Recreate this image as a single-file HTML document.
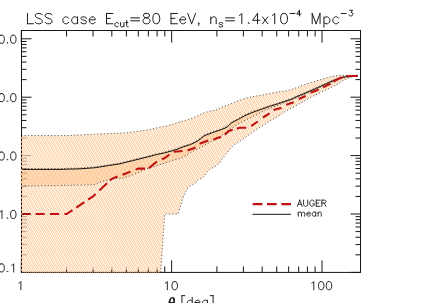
<!DOCTYPE html>
<html><head><meta charset="utf-8"><title>plot</title>
<style>
html,body{margin:0;padding:0;background:#fff}
body{width:424px;height:303px;overflow:hidden;font-family:"Liberation Sans",sans-serif}
svg{display:block;will-change:transform}
text{font-family:"Liberation Sans",sans-serif;fill:#1a1a1a}
</style></head><body>
<svg width="424" height="303" viewBox="0 0 424 303">
<defs>
<clipPath id="c1"><polygon points="21.30,135.60 66.60,135.60 77.50,135.00 95.00,134.20 111.80,133.50 126.00,132.90 140.00,131.00 150.00,129.50 160.00,127.20 168.30,125.60 176.50,123.10 184.80,120.60 193.00,117.80 198.00,115.70 202.90,113.20 209.50,111.20 217.80,109.60 220.00,108.00 228.30,104.80 236.50,101.50 244.80,98.50 253.00,96.50 261.30,95.20 269.50,93.50 277.80,91.90 285.00,91.20 291.25,89.50 296.00,87.90 301.00,85.90 305.90,84.10 310.90,82.50 315.80,81.00 320.80,79.60 325.40,78.30 329.40,77.00 333.90,76.00 338.40,75.40 342.90,75.20 347.40,75.60 351.00,75.97 357.80,75.97 357.80,75.97 354.00,75.97 350.50,77.00 347.40,78.50 343.00,80.50 338.50,83.50 335.60,85.20 330.50,87.80 325.70,90.00 321.00,92.30 316.00,94.70 309.00,98.30 303.00,101.80 297.50,104.90 290.00,108.90 285.00,111.60 277.10,117.00 269.70,121.00 263.75,125.10 257.50,128.90 251.25,133.25 245.00,137.60 238.75,142.00 233.75,145.10 230.00,148.90 226.25,153.90 222.50,158.25 220.10,162.50 217.00,165.00 214.50,166.90 209.50,169.40 206.40,172.50 205.10,175.00 202.00,178.10 197.60,180.00 195.75,182.75 192.00,185.00 188.25,186.90 183.55,196.40 178.00,214.00 164.70,214.00 160.70,272.40 21.30,272.40"/></clipPath>
<clipPath id="c2"><polygon points="21.30,168.60 60.00,168.60 73.00,168.20 80.00,168.00 94.20,167.00 108.40,164.80 120.00,163.00 132.50,159.90 145.00,156.80 157.50,153.60 163.75,152.30 172.90,149.80 176.00,148.90 183.30,146.00 190.50,143.80 197.80,140.20 204.00,135.10 212.60,131.80 221.10,128.90 227.10,126.40 231.40,122.10 238.30,118.60 244.80,114.90 253.00,111.40 261.30,108.60 269.50,105.60 277.80,103.10 285.00,100.60 291.25,98.50 296.00,96.20 305.90,92.10 315.80,87.70 325.40,83.40 333.90,79.50 338.40,77.90 342.90,76.50 347.40,75.60 351.00,75.17 357.80,75.17 357.80,75.97 340.00,78.50 300.00,96.64 265.00,110.25 236.00,125.07 220.00,136.58 200.00,147.79 192.00,151.86 181.00,158.21 172.90,160.30 157.50,165.60 145.00,169.40 132.50,175.00 122.60,178.36 115.50,178.40 108.40,180.00 101.30,181.70 94.00,184.81 21.30,186.20"/></clipPath>
<clipPath id="cp"><rect x="21.5" y="30.5" width="339" height="241.9"/></clipPath>
</defs>
<rect width="424" height="303" fill="#fff"/>
<path d="M21.30 272.40v-12 M21.30 30.50v12 M66.56 272.40v-6 M66.56 30.50v6 M93.04 272.40v-6 M93.04 30.50v6 M111.82 272.40v-6 M111.82 30.50v6 M126.39 272.40v-6 M126.39 30.50v6 M138.30 272.40v-6 M138.30 30.50v6 M148.36 272.40v-6 M148.36 30.50v6 M157.08 272.40v-6 M157.08 30.50v6 M164.77 272.40v-6 M164.77 30.50v6 M171.65 272.40v-12 M171.65 30.50v12 M216.91 272.40v-6 M216.91 30.50v6 M243.39 272.40v-6 M243.39 30.50v6 M262.17 272.40v-6 M262.17 30.50v6 M276.74 272.40v-6 M276.74 30.50v6 M288.65 272.40v-6 M288.65 30.50v6 M298.71 272.40v-6 M298.71 30.50v6 M307.43 272.40v-6 M307.43 30.50v6 M315.12 272.40v-6 M315.12 30.50v6 M322.00 272.40v-12 M322.00 30.50v12 M21.50 272.40h10 M360.50 272.40h-10 M21.50 254.82h5 M360.50 254.82h-5 M21.50 244.54h5 M360.50 244.54h-5 M21.50 237.24h5 M360.50 237.24h-5 M21.50 231.58h5 M360.50 231.58h-5 M21.50 226.96h5 M360.50 226.96h-5 M21.50 223.05h5 M360.50 223.05h-5 M21.50 219.66h5 M360.50 219.66h-5 M21.50 216.67h5 M360.50 216.67h-5 M21.50 214.00h10 M360.50 214.00h-10 M21.50 196.42h5 M360.50 196.42h-5 M21.50 186.14h5 M360.50 186.14h-5 M21.50 178.84h5 M360.50 178.84h-5 M21.50 173.18h5 M360.50 173.18h-5 M21.50 168.56h5 M360.50 168.56h-5 M21.50 164.65h5 M360.50 164.65h-5 M21.50 161.26h5 M360.50 161.26h-5 M21.50 158.27h5 M360.50 158.27h-5 M21.50 155.60h10 M360.50 155.60h-10 M21.50 138.02h5 M360.50 138.02h-5 M21.50 127.74h5 M360.50 127.74h-5 M21.50 120.44h5 M360.50 120.44h-5 M21.50 114.78h5 M360.50 114.78h-5 M21.50 110.16h5 M360.50 110.16h-5 M21.50 106.25h5 M360.50 106.25h-5 M21.50 102.86h5 M360.50 102.86h-5 M21.50 99.87h5 M360.50 99.87h-5 M21.50 97.20h10 M360.50 97.20h-10 M21.50 79.62h5 M360.50 79.62h-5 M21.50 69.34h5 M360.50 69.34h-5 M21.50 62.04h5 M360.50 62.04h-5 M21.50 56.38h5 M360.50 56.38h-5 M21.50 51.76h5 M360.50 51.76h-5 M21.50 47.85h5 M360.50 47.85h-5 M21.50 44.46h5 M360.50 44.46h-5 M21.50 41.47h5 M360.50 41.47h-5 M21.50 38.80h10 M360.50 38.80h-10" stroke="#151515" stroke-width="1" fill="none"/>
<g clip-path="url(#cp)">
<polygon points="21.30,135.60 66.60,135.60 77.50,135.00 95.00,134.20 111.80,133.50 126.00,132.90 140.00,131.00 150.00,129.50 160.00,127.20 168.30,125.60 176.50,123.10 184.80,120.60 193.00,117.80 198.00,115.70 202.90,113.20 209.50,111.20 217.80,109.60 220.00,108.00 228.30,104.80 236.50,101.50 244.80,98.50 253.00,96.50 261.30,95.20 269.50,93.50 277.80,91.90 285.00,91.20 291.25,89.50 296.00,87.90 301.00,85.90 305.90,84.10 310.90,82.50 315.80,81.00 320.80,79.60 325.40,78.30 329.40,77.00 333.90,76.00 338.40,75.40 342.90,75.20 347.40,75.60 351.00,75.97 357.80,75.97 357.80,75.97 354.00,75.97 350.50,77.00 347.40,78.50 343.00,80.50 338.50,83.50 335.60,85.20 330.50,87.80 325.70,90.00 321.00,92.30 316.00,94.70 309.00,98.30 303.00,101.80 297.50,104.90 290.00,108.90 285.00,111.60 277.10,117.00 269.70,121.00 263.75,125.10 257.50,128.90 251.25,133.25 245.00,137.60 238.75,142.00 233.75,145.10 230.00,148.90 226.25,153.90 222.50,158.25 220.10,162.50 217.00,165.00 214.50,166.90 209.50,169.40 206.40,172.50 205.10,175.00 202.00,178.10 197.60,180.00 195.75,182.75 192.00,185.00 188.25,186.90 183.55,196.40 178.00,214.00 164.70,214.00 160.70,272.40 21.30,272.40" fill="#fff6ed"/>
<polygon points="21.30,168.60 60.00,168.60 73.00,168.20 80.00,168.00 94.20,167.00 108.40,164.80 120.00,163.00 132.50,159.90 145.00,156.80 157.50,153.60 163.75,152.30 172.90,149.80 176.00,148.90 183.30,146.00 190.50,143.80 197.80,140.20 204.00,135.10 212.60,131.80 221.10,128.90 227.10,126.40 231.40,122.10 238.30,118.60 244.80,114.90 253.00,111.40 261.30,108.60 269.50,105.60 277.80,103.10 285.00,100.60 291.25,98.50 296.00,96.20 305.90,92.10 315.80,87.70 325.40,83.40 333.90,79.50 338.40,77.90 342.90,76.50 347.40,75.60 351.00,75.17 357.80,75.17 357.80,75.97 340.00,78.50 300.00,96.64 265.00,110.25 236.00,125.07 220.00,136.58 200.00,147.79 192.00,151.86 181.00,158.21 172.90,160.30 157.50,165.60 145.00,169.40 132.50,175.00 122.60,178.36 115.50,178.40 108.40,180.00 101.30,181.70 94.00,184.81 21.30,186.20" fill="#ffeedd"/>
<g clip-path="url(#c1)"><path d="M-159.97 30.5h0.44l140.00 245h-0.44zM-158.27 30.5h0.44l140.00 245h-0.44zM-155.97 30.5h0.44l140.00 245h-0.44zM-154.27 30.5h0.44l140.00 245h-0.44zM-151.97 30.5h0.44l140.00 245h-0.44zM-150.27 30.5h0.44l140.00 245h-0.44zM-147.97 30.5h0.44l140.00 245h-0.44zM-146.27 30.5h0.44l140.00 245h-0.44zM-143.97 30.5h0.44l140.00 245h-0.44zM-142.27 30.5h0.44l140.00 245h-0.44zM-139.97 30.5h0.44l140.00 245h-0.44zM-138.27 30.5h0.44l140.00 245h-0.44zM-135.97 30.5h0.44l140.00 245h-0.44zM-134.27 30.5h0.44l140.00 245h-0.44zM-131.97 30.5h0.44l140.00 245h-0.44zM-130.27 30.5h0.44l140.00 245h-0.44zM-127.97 30.5h0.44l140.00 245h-0.44zM-126.27 30.5h0.44l140.00 245h-0.44zM-123.97 30.5h0.44l140.00 245h-0.44zM-122.27 30.5h0.44l140.00 245h-0.44zM-119.97 30.5h0.44l140.00 245h-0.44zM-118.27 30.5h0.44l140.00 245h-0.44zM-115.97 30.5h0.44l140.00 245h-0.44zM-114.27 30.5h0.44l140.00 245h-0.44zM-111.97 30.5h0.44l140.00 245h-0.44zM-110.27 30.5h0.44l140.00 245h-0.44zM-107.97 30.5h0.44l140.00 245h-0.44zM-106.27 30.5h0.44l140.00 245h-0.44zM-103.97 30.5h0.44l140.00 245h-0.44zM-102.27 30.5h0.44l140.00 245h-0.44zM-99.97 30.5h0.44l140.00 245h-0.44zM-98.27 30.5h0.44l140.00 245h-0.44zM-95.97 30.5h0.44l140.00 245h-0.44zM-94.27 30.5h0.44l140.00 245h-0.44zM-91.97 30.5h0.44l140.00 245h-0.44zM-90.27 30.5h0.44l140.00 245h-0.44zM-87.97 30.5h0.44l140.00 245h-0.44zM-86.27 30.5h0.44l140.00 245h-0.44zM-83.97 30.5h0.44l140.00 245h-0.44zM-82.27 30.5h0.44l140.00 245h-0.44zM-79.97 30.5h0.44l140.00 245h-0.44zM-78.27 30.5h0.44l140.00 245h-0.44zM-75.97 30.5h0.44l140.00 245h-0.44zM-74.27 30.5h0.44l140.00 245h-0.44zM-71.97 30.5h0.44l140.00 245h-0.44zM-70.27 30.5h0.44l140.00 245h-0.44zM-67.97 30.5h0.44l140.00 245h-0.44zM-66.27 30.5h0.44l140.00 245h-0.44zM-63.97 30.5h0.44l140.00 245h-0.44zM-62.27 30.5h0.44l140.00 245h-0.44zM-59.97 30.5h0.44l140.00 245h-0.44zM-58.27 30.5h0.44l140.00 245h-0.44zM-55.97 30.5h0.44l140.00 245h-0.44zM-54.27 30.5h0.44l140.00 245h-0.44zM-51.97 30.5h0.44l140.00 245h-0.44zM-50.27 30.5h0.44l140.00 245h-0.44zM-47.97 30.5h0.44l140.00 245h-0.44zM-46.27 30.5h0.44l140.00 245h-0.44zM-43.97 30.5h0.44l140.00 245h-0.44zM-42.27 30.5h0.44l140.00 245h-0.44zM-39.97 30.5h0.44l140.00 245h-0.44zM-38.27 30.5h0.44l140.00 245h-0.44zM-35.97 30.5h0.44l140.00 245h-0.44zM-34.27 30.5h0.44l140.00 245h-0.44zM-31.97 30.5h0.44l140.00 245h-0.44zM-30.27 30.5h0.44l140.00 245h-0.44zM-27.97 30.5h0.44l140.00 245h-0.44zM-26.27 30.5h0.44l140.00 245h-0.44zM-23.97 30.5h0.44l140.00 245h-0.44zM-22.27 30.5h0.44l140.00 245h-0.44zM-19.97 30.5h0.44l140.00 245h-0.44zM-18.27 30.5h0.44l140.00 245h-0.44zM-15.97 30.5h0.44l140.00 245h-0.44zM-14.27 30.5h0.44l140.00 245h-0.44zM-11.97 30.5h0.44l140.00 245h-0.44zM-10.27 30.5h0.44l140.00 245h-0.44zM-7.97 30.5h0.44l140.00 245h-0.44zM-6.27 30.5h0.44l140.00 245h-0.44zM-3.97 30.5h0.44l140.00 245h-0.44zM-2.27 30.5h0.44l140.00 245h-0.44zM0.03 30.5h0.44l140.00 245h-0.44zM1.73 30.5h0.44l140.00 245h-0.44zM4.03 30.5h0.44l140.00 245h-0.44zM5.73 30.5h0.44l140.00 245h-0.44zM8.03 30.5h0.44l140.00 245h-0.44zM9.73 30.5h0.44l140.00 245h-0.44zM12.03 30.5h0.44l140.00 245h-0.44zM13.73 30.5h0.44l140.00 245h-0.44zM16.03 30.5h0.44l140.00 245h-0.44zM17.73 30.5h0.44l140.00 245h-0.44zM20.03 30.5h0.44l140.00 245h-0.44zM21.73 30.5h0.44l140.00 245h-0.44zM24.03 30.5h0.44l140.00 245h-0.44zM25.73 30.5h0.44l140.00 245h-0.44zM28.03 30.5h0.44l140.00 245h-0.44zM29.73 30.5h0.44l140.00 245h-0.44zM32.03 30.5h0.44l140.00 245h-0.44zM33.73 30.5h0.44l140.00 245h-0.44zM36.03 30.5h0.44l140.00 245h-0.44zM37.73 30.5h0.44l140.00 245h-0.44zM40.03 30.5h0.44l140.00 245h-0.44zM41.73 30.5h0.44l140.00 245h-0.44zM44.03 30.5h0.44l140.00 245h-0.44zM45.73 30.5h0.44l140.00 245h-0.44zM48.03 30.5h0.44l140.00 245h-0.44zM49.73 30.5h0.44l140.00 245h-0.44zM52.03 30.5h0.44l140.00 245h-0.44zM53.73 30.5h0.44l140.00 245h-0.44zM56.03 30.5h0.44l140.00 245h-0.44zM57.73 30.5h0.44l140.00 245h-0.44zM60.03 30.5h0.44l140.00 245h-0.44zM61.73 30.5h0.44l140.00 245h-0.44zM64.03 30.5h0.44l140.00 245h-0.44zM65.73 30.5h0.44l140.00 245h-0.44zM68.03 30.5h0.44l140.00 245h-0.44zM69.73 30.5h0.44l140.00 245h-0.44zM72.03 30.5h0.44l140.00 245h-0.44zM73.73 30.5h0.44l140.00 245h-0.44zM76.03 30.5h0.44l140.00 245h-0.44zM77.73 30.5h0.44l140.00 245h-0.44zM80.03 30.5h0.44l140.00 245h-0.44zM81.73 30.5h0.44l140.00 245h-0.44zM84.03 30.5h0.44l140.00 245h-0.44zM85.73 30.5h0.44l140.00 245h-0.44zM88.03 30.5h0.44l140.00 245h-0.44zM89.73 30.5h0.44l140.00 245h-0.44zM92.03 30.5h0.44l140.00 245h-0.44zM93.73 30.5h0.44l140.00 245h-0.44zM96.03 30.5h0.44l140.00 245h-0.44zM97.73 30.5h0.44l140.00 245h-0.44zM100.03 30.5h0.44l140.00 245h-0.44zM101.73 30.5h0.44l140.00 245h-0.44zM104.03 30.5h0.44l140.00 245h-0.44zM105.73 30.5h0.44l140.00 245h-0.44zM108.03 30.5h0.44l140.00 245h-0.44zM109.73 30.5h0.44l140.00 245h-0.44zM112.03 30.5h0.44l140.00 245h-0.44zM113.73 30.5h0.44l140.00 245h-0.44zM116.03 30.5h0.44l140.00 245h-0.44zM117.73 30.5h0.44l140.00 245h-0.44zM120.03 30.5h0.44l140.00 245h-0.44zM121.73 30.5h0.44l140.00 245h-0.44zM124.03 30.5h0.44l140.00 245h-0.44zM125.73 30.5h0.44l140.00 245h-0.44zM128.03 30.5h0.44l140.00 245h-0.44zM129.73 30.5h0.44l140.00 245h-0.44zM132.03 30.5h0.44l140.00 245h-0.44zM133.73 30.5h0.44l140.00 245h-0.44zM136.03 30.5h0.44l140.00 245h-0.44zM137.73 30.5h0.44l140.00 245h-0.44zM140.03 30.5h0.44l140.00 245h-0.44zM141.73 30.5h0.44l140.00 245h-0.44zM144.03 30.5h0.44l140.00 245h-0.44zM145.73 30.5h0.44l140.00 245h-0.44zM148.03 30.5h0.44l140.00 245h-0.44zM149.73 30.5h0.44l140.00 245h-0.44zM152.03 30.5h0.44l140.00 245h-0.44zM153.73 30.5h0.44l140.00 245h-0.44zM156.03 30.5h0.44l140.00 245h-0.44zM157.73 30.5h0.44l140.00 245h-0.44zM160.03 30.5h0.44l140.00 245h-0.44zM161.73 30.5h0.44l140.00 245h-0.44zM164.03 30.5h0.44l140.00 245h-0.44zM165.73 30.5h0.44l140.00 245h-0.44zM168.03 30.5h0.44l140.00 245h-0.44zM169.73 30.5h0.44l140.00 245h-0.44zM172.03 30.5h0.44l140.00 245h-0.44zM173.73 30.5h0.44l140.00 245h-0.44zM176.03 30.5h0.44l140.00 245h-0.44zM177.73 30.5h0.44l140.00 245h-0.44zM180.03 30.5h0.44l140.00 245h-0.44zM181.73 30.5h0.44l140.00 245h-0.44zM184.03 30.5h0.44l140.00 245h-0.44zM185.73 30.5h0.44l140.00 245h-0.44zM188.03 30.5h0.44l140.00 245h-0.44zM189.73 30.5h0.44l140.00 245h-0.44zM192.03 30.5h0.44l140.00 245h-0.44zM193.73 30.5h0.44l140.00 245h-0.44zM196.03 30.5h0.44l140.00 245h-0.44zM197.73 30.5h0.44l140.00 245h-0.44zM200.03 30.5h0.44l140.00 245h-0.44zM201.73 30.5h0.44l140.00 245h-0.44zM204.03 30.5h0.44l140.00 245h-0.44zM205.73 30.5h0.44l140.00 245h-0.44zM208.03 30.5h0.44l140.00 245h-0.44zM209.73 30.5h0.44l140.00 245h-0.44zM212.03 30.5h0.44l140.00 245h-0.44zM213.73 30.5h0.44l140.00 245h-0.44zM216.03 30.5h0.44l140.00 245h-0.44zM217.73 30.5h0.44l140.00 245h-0.44zM220.03 30.5h0.44l140.00 245h-0.44zM221.73 30.5h0.44l140.00 245h-0.44zM224.03 30.5h0.44l140.00 245h-0.44zM225.73 30.5h0.44l140.00 245h-0.44zM228.03 30.5h0.44l140.00 245h-0.44zM229.73 30.5h0.44l140.00 245h-0.44zM232.03 30.5h0.44l140.00 245h-0.44zM233.73 30.5h0.44l140.00 245h-0.44zM236.03 30.5h0.44l140.00 245h-0.44zM237.73 30.5h0.44l140.00 245h-0.44zM240.03 30.5h0.44l140.00 245h-0.44zM241.73 30.5h0.44l140.00 245h-0.44zM244.03 30.5h0.44l140.00 245h-0.44zM245.73 30.5h0.44l140.00 245h-0.44zM248.03 30.5h0.44l140.00 245h-0.44zM249.73 30.5h0.44l140.00 245h-0.44zM252.03 30.5h0.44l140.00 245h-0.44zM253.73 30.5h0.44l140.00 245h-0.44zM256.03 30.5h0.44l140.00 245h-0.44zM257.73 30.5h0.44l140.00 245h-0.44zM260.03 30.5h0.44l140.00 245h-0.44zM261.73 30.5h0.44l140.00 245h-0.44zM264.03 30.5h0.44l140.00 245h-0.44zM265.73 30.5h0.44l140.00 245h-0.44zM268.03 30.5h0.44l140.00 245h-0.44zM269.73 30.5h0.44l140.00 245h-0.44zM272.03 30.5h0.44l140.00 245h-0.44zM273.73 30.5h0.44l140.00 245h-0.44zM276.03 30.5h0.44l140.00 245h-0.44zM277.73 30.5h0.44l140.00 245h-0.44zM280.03 30.5h0.44l140.00 245h-0.44zM281.73 30.5h0.44l140.00 245h-0.44zM284.03 30.5h0.44l140.00 245h-0.44zM285.73 30.5h0.44l140.00 245h-0.44zM288.03 30.5h0.44l140.00 245h-0.44zM289.73 30.5h0.44l140.00 245h-0.44zM292.03 30.5h0.44l140.00 245h-0.44zM293.73 30.5h0.44l140.00 245h-0.44zM296.03 30.5h0.44l140.00 245h-0.44zM297.73 30.5h0.44l140.00 245h-0.44zM300.03 30.5h0.44l140.00 245h-0.44zM301.73 30.5h0.44l140.00 245h-0.44zM304.03 30.5h0.44l140.00 245h-0.44zM305.73 30.5h0.44l140.00 245h-0.44zM308.03 30.5h0.44l140.00 245h-0.44zM309.73 30.5h0.44l140.00 245h-0.44zM312.03 30.5h0.44l140.00 245h-0.44zM313.73 30.5h0.44l140.00 245h-0.44zM316.03 30.5h0.44l140.00 245h-0.44zM317.73 30.5h0.44l140.00 245h-0.44zM320.03 30.5h0.44l140.00 245h-0.44zM321.73 30.5h0.44l140.00 245h-0.44zM324.03 30.5h0.44l140.00 245h-0.44zM325.73 30.5h0.44l140.00 245h-0.44zM328.03 30.5h0.44l140.00 245h-0.44zM329.73 30.5h0.44l140.00 245h-0.44zM332.03 30.5h0.44l140.00 245h-0.44zM333.73 30.5h0.44l140.00 245h-0.44zM336.03 30.5h0.44l140.00 245h-0.44zM337.73 30.5h0.44l140.00 245h-0.44zM340.03 30.5h0.44l140.00 245h-0.44zM341.73 30.5h0.44l140.00 245h-0.44zM344.03 30.5h0.44l140.00 245h-0.44zM345.73 30.5h0.44l140.00 245h-0.44zM348.03 30.5h0.44l140.00 245h-0.44zM349.73 30.5h0.44l140.00 245h-0.44zM352.03 30.5h0.44l140.00 245h-0.44zM353.73 30.5h0.44l140.00 245h-0.44zM356.03 30.5h0.44l140.00 245h-0.44zM357.73 30.5h0.44l140.00 245h-0.44zM360.03 30.5h0.44l140.00 245h-0.44zM361.73 30.5h0.44l140.00 245h-0.44zM364.03 30.5h0.44l140.00 245h-0.44zM365.73 30.5h0.44l140.00 245h-0.44zM368.03 30.5h0.44l140.00 245h-0.44zM369.73 30.5h0.44l140.00 245h-0.44zM372.03 30.5h0.44l140.00 245h-0.44zM373.73 30.5h0.44l140.00 245h-0.44zM376.03 30.5h0.44l140.00 245h-0.44zM377.73 30.5h0.44l140.00 245h-0.44zM380.03 30.5h0.44l140.00 245h-0.44zM381.73 30.5h0.44l140.00 245h-0.44zM384.03 30.5h0.44l140.00 245h-0.44zM385.73 30.5h0.44l140.00 245h-0.44zM388.03 30.5h0.44l140.00 245h-0.44zM389.73 30.5h0.44l140.00 245h-0.44zM392.03 30.5h0.44l140.00 245h-0.44zM393.73 30.5h0.44l140.00 245h-0.44zM396.03 30.5h0.44l140.00 245h-0.44zM397.73 30.5h0.44l140.00 245h-0.44zM400.03 30.5h0.44l140.00 245h-0.44zM401.73 30.5h0.44l140.00 245h-0.44zM404.03 30.5h0.44l140.00 245h-0.44zM405.73 30.5h0.44l140.00 245h-0.44zM408.03 30.5h0.44l140.00 245h-0.44zM409.73 30.5h0.44l140.00 245h-0.44zM412.03 30.5h0.44l140.00 245h-0.44zM413.73 30.5h0.44l140.00 245h-0.44zM416.03 30.5h0.44l140.00 245h-0.44zM417.73 30.5h0.44l140.00 245h-0.44zM420.03 30.5h0.44l140.00 245h-0.44zM421.73 30.5h0.44l140.00 245h-0.44zM424.03 30.5h0.44l140.00 245h-0.44zM425.73 30.5h0.44l140.00 245h-0.44zM428.03 30.5h0.44l140.00 245h-0.44zM429.73 30.5h0.44l140.00 245h-0.44zM432.03 30.5h0.44l140.00 245h-0.44zM433.73 30.5h0.44l140.00 245h-0.44zM436.03 30.5h0.44l140.00 245h-0.44zM437.73 30.5h0.44l140.00 245h-0.44zM440.03 30.5h0.44l140.00 245h-0.44zM441.73 30.5h0.44l140.00 245h-0.44zM444.03 30.5h0.44l140.00 245h-0.44zM445.73 30.5h0.44l140.00 245h-0.44zM448.03 30.5h0.44l140.00 245h-0.44zM449.73 30.5h0.44l140.00 245h-0.44zM452.03 30.5h0.44l140.00 245h-0.44zM453.73 30.5h0.44l140.00 245h-0.44zM456.03 30.5h0.44l140.00 245h-0.44zM457.73 30.5h0.44l140.00 245h-0.44zM460.03 30.5h0.44l140.00 245h-0.44zM461.73 30.5h0.44l140.00 245h-0.44zM464.03 30.5h0.44l140.00 245h-0.44zM465.73 30.5h0.44l140.00 245h-0.44zM468.03 30.5h0.44l140.00 245h-0.44zM469.73 30.5h0.44l140.00 245h-0.44zM472.03 30.5h0.44l140.00 245h-0.44zM473.73 30.5h0.44l140.00 245h-0.44zM476.03 30.5h0.44l140.00 245h-0.44zM477.73 30.5h0.44l140.00 245h-0.44zM480.03 30.5h0.44l140.00 245h-0.44zM481.73 30.5h0.44l140.00 245h-0.44zM484.03 30.5h0.44l140.00 245h-0.44zM485.73 30.5h0.44l140.00 245h-0.44zM488.03 30.5h0.44l140.00 245h-0.44zM489.73 30.5h0.44l140.00 245h-0.44zM492.03 30.5h0.44l140.00 245h-0.44zM493.73 30.5h0.44l140.00 245h-0.44zM496.03 30.5h0.44l140.00 245h-0.44zM497.73 30.5h0.44l140.00 245h-0.44zM500.03 30.5h0.44l140.00 245h-0.44zM501.73 30.5h0.44l140.00 245h-0.44zM504.03 30.5h0.44l140.00 245h-0.44zM505.73 30.5h0.44l140.00 245h-0.44zM508.03 30.5h0.44l140.00 245h-0.44zM509.73 30.5h0.44l140.00 245h-0.44zM512.03 30.5h0.44l140.00 245h-0.44zM513.73 30.5h0.44l140.00 245h-0.44zM516.03 30.5h0.44l140.00 245h-0.44zM517.73 30.5h0.44l140.00 245h-0.44z" fill="#fda650"/></g>
<g clip-path="url(#c2)"><path d="M-159.97 30.5h0.44l-140.00 245h-0.44zM-158.27 30.5h0.44l-140.00 245h-0.44zM-155.97 30.5h0.44l-140.00 245h-0.44zM-154.27 30.5h0.44l-140.00 245h-0.44zM-151.97 30.5h0.44l-140.00 245h-0.44zM-150.27 30.5h0.44l-140.00 245h-0.44zM-147.97 30.5h0.44l-140.00 245h-0.44zM-146.27 30.5h0.44l-140.00 245h-0.44zM-143.97 30.5h0.44l-140.00 245h-0.44zM-142.27 30.5h0.44l-140.00 245h-0.44zM-139.97 30.5h0.44l-140.00 245h-0.44zM-138.27 30.5h0.44l-140.00 245h-0.44zM-135.97 30.5h0.44l-140.00 245h-0.44zM-134.27 30.5h0.44l-140.00 245h-0.44zM-131.97 30.5h0.44l-140.00 245h-0.44zM-130.27 30.5h0.44l-140.00 245h-0.44zM-127.97 30.5h0.44l-140.00 245h-0.44zM-126.27 30.5h0.44l-140.00 245h-0.44zM-123.97 30.5h0.44l-140.00 245h-0.44zM-122.27 30.5h0.44l-140.00 245h-0.44zM-119.97 30.5h0.44l-140.00 245h-0.44zM-118.27 30.5h0.44l-140.00 245h-0.44zM-115.97 30.5h0.44l-140.00 245h-0.44zM-114.27 30.5h0.44l-140.00 245h-0.44zM-111.97 30.5h0.44l-140.00 245h-0.44zM-110.27 30.5h0.44l-140.00 245h-0.44zM-107.97 30.5h0.44l-140.00 245h-0.44zM-106.27 30.5h0.44l-140.00 245h-0.44zM-103.97 30.5h0.44l-140.00 245h-0.44zM-102.27 30.5h0.44l-140.00 245h-0.44zM-99.97 30.5h0.44l-140.00 245h-0.44zM-98.27 30.5h0.44l-140.00 245h-0.44zM-95.97 30.5h0.44l-140.00 245h-0.44zM-94.27 30.5h0.44l-140.00 245h-0.44zM-91.97 30.5h0.44l-140.00 245h-0.44zM-90.27 30.5h0.44l-140.00 245h-0.44zM-87.97 30.5h0.44l-140.00 245h-0.44zM-86.27 30.5h0.44l-140.00 245h-0.44zM-83.97 30.5h0.44l-140.00 245h-0.44zM-82.27 30.5h0.44l-140.00 245h-0.44zM-79.97 30.5h0.44l-140.00 245h-0.44zM-78.27 30.5h0.44l-140.00 245h-0.44zM-75.97 30.5h0.44l-140.00 245h-0.44zM-74.27 30.5h0.44l-140.00 245h-0.44zM-71.97 30.5h0.44l-140.00 245h-0.44zM-70.27 30.5h0.44l-140.00 245h-0.44zM-67.97 30.5h0.44l-140.00 245h-0.44zM-66.27 30.5h0.44l-140.00 245h-0.44zM-63.97 30.5h0.44l-140.00 245h-0.44zM-62.27 30.5h0.44l-140.00 245h-0.44zM-59.97 30.5h0.44l-140.00 245h-0.44zM-58.27 30.5h0.44l-140.00 245h-0.44zM-55.97 30.5h0.44l-140.00 245h-0.44zM-54.27 30.5h0.44l-140.00 245h-0.44zM-51.97 30.5h0.44l-140.00 245h-0.44zM-50.27 30.5h0.44l-140.00 245h-0.44zM-47.97 30.5h0.44l-140.00 245h-0.44zM-46.27 30.5h0.44l-140.00 245h-0.44zM-43.97 30.5h0.44l-140.00 245h-0.44zM-42.27 30.5h0.44l-140.00 245h-0.44zM-39.97 30.5h0.44l-140.00 245h-0.44zM-38.27 30.5h0.44l-140.00 245h-0.44zM-35.97 30.5h0.44l-140.00 245h-0.44zM-34.27 30.5h0.44l-140.00 245h-0.44zM-31.97 30.5h0.44l-140.00 245h-0.44zM-30.27 30.5h0.44l-140.00 245h-0.44zM-27.97 30.5h0.44l-140.00 245h-0.44zM-26.27 30.5h0.44l-140.00 245h-0.44zM-23.97 30.5h0.44l-140.00 245h-0.44zM-22.27 30.5h0.44l-140.00 245h-0.44zM-19.97 30.5h0.44l-140.00 245h-0.44zM-18.27 30.5h0.44l-140.00 245h-0.44zM-15.97 30.5h0.44l-140.00 245h-0.44zM-14.27 30.5h0.44l-140.00 245h-0.44zM-11.97 30.5h0.44l-140.00 245h-0.44zM-10.27 30.5h0.44l-140.00 245h-0.44zM-7.97 30.5h0.44l-140.00 245h-0.44zM-6.27 30.5h0.44l-140.00 245h-0.44zM-3.97 30.5h0.44l-140.00 245h-0.44zM-2.27 30.5h0.44l-140.00 245h-0.44zM0.03 30.5h0.44l-140.00 245h-0.44zM1.73 30.5h0.44l-140.00 245h-0.44zM4.03 30.5h0.44l-140.00 245h-0.44zM5.73 30.5h0.44l-140.00 245h-0.44zM8.03 30.5h0.44l-140.00 245h-0.44zM9.73 30.5h0.44l-140.00 245h-0.44zM12.03 30.5h0.44l-140.00 245h-0.44zM13.73 30.5h0.44l-140.00 245h-0.44zM16.03 30.5h0.44l-140.00 245h-0.44zM17.73 30.5h0.44l-140.00 245h-0.44zM20.03 30.5h0.44l-140.00 245h-0.44zM21.73 30.5h0.44l-140.00 245h-0.44zM24.03 30.5h0.44l-140.00 245h-0.44zM25.73 30.5h0.44l-140.00 245h-0.44zM28.03 30.5h0.44l-140.00 245h-0.44zM29.73 30.5h0.44l-140.00 245h-0.44zM32.03 30.5h0.44l-140.00 245h-0.44zM33.73 30.5h0.44l-140.00 245h-0.44zM36.03 30.5h0.44l-140.00 245h-0.44zM37.73 30.5h0.44l-140.00 245h-0.44zM40.03 30.5h0.44l-140.00 245h-0.44zM41.73 30.5h0.44l-140.00 245h-0.44zM44.03 30.5h0.44l-140.00 245h-0.44zM45.73 30.5h0.44l-140.00 245h-0.44zM48.03 30.5h0.44l-140.00 245h-0.44zM49.73 30.5h0.44l-140.00 245h-0.44zM52.03 30.5h0.44l-140.00 245h-0.44zM53.73 30.5h0.44l-140.00 245h-0.44zM56.03 30.5h0.44l-140.00 245h-0.44zM57.73 30.5h0.44l-140.00 245h-0.44zM60.03 30.5h0.44l-140.00 245h-0.44zM61.73 30.5h0.44l-140.00 245h-0.44zM64.03 30.5h0.44l-140.00 245h-0.44zM65.73 30.5h0.44l-140.00 245h-0.44zM68.03 30.5h0.44l-140.00 245h-0.44zM69.73 30.5h0.44l-140.00 245h-0.44zM72.03 30.5h0.44l-140.00 245h-0.44zM73.73 30.5h0.44l-140.00 245h-0.44zM76.03 30.5h0.44l-140.00 245h-0.44zM77.73 30.5h0.44l-140.00 245h-0.44zM80.03 30.5h0.44l-140.00 245h-0.44zM81.73 30.5h0.44l-140.00 245h-0.44zM84.03 30.5h0.44l-140.00 245h-0.44zM85.73 30.5h0.44l-140.00 245h-0.44zM88.03 30.5h0.44l-140.00 245h-0.44zM89.73 30.5h0.44l-140.00 245h-0.44zM92.03 30.5h0.44l-140.00 245h-0.44zM93.73 30.5h0.44l-140.00 245h-0.44zM96.03 30.5h0.44l-140.00 245h-0.44zM97.73 30.5h0.44l-140.00 245h-0.44zM100.03 30.5h0.44l-140.00 245h-0.44zM101.73 30.5h0.44l-140.00 245h-0.44zM104.03 30.5h0.44l-140.00 245h-0.44zM105.73 30.5h0.44l-140.00 245h-0.44zM108.03 30.5h0.44l-140.00 245h-0.44zM109.73 30.5h0.44l-140.00 245h-0.44zM112.03 30.5h0.44l-140.00 245h-0.44zM113.73 30.5h0.44l-140.00 245h-0.44zM116.03 30.5h0.44l-140.00 245h-0.44zM117.73 30.5h0.44l-140.00 245h-0.44zM120.03 30.5h0.44l-140.00 245h-0.44zM121.73 30.5h0.44l-140.00 245h-0.44zM124.03 30.5h0.44l-140.00 245h-0.44zM125.73 30.5h0.44l-140.00 245h-0.44zM128.03 30.5h0.44l-140.00 245h-0.44zM129.73 30.5h0.44l-140.00 245h-0.44zM132.03 30.5h0.44l-140.00 245h-0.44zM133.73 30.5h0.44l-140.00 245h-0.44zM136.03 30.5h0.44l-140.00 245h-0.44zM137.73 30.5h0.44l-140.00 245h-0.44zM140.03 30.5h0.44l-140.00 245h-0.44zM141.73 30.5h0.44l-140.00 245h-0.44zM144.03 30.5h0.44l-140.00 245h-0.44zM145.73 30.5h0.44l-140.00 245h-0.44zM148.03 30.5h0.44l-140.00 245h-0.44zM149.73 30.5h0.44l-140.00 245h-0.44zM152.03 30.5h0.44l-140.00 245h-0.44zM153.73 30.5h0.44l-140.00 245h-0.44zM156.03 30.5h0.44l-140.00 245h-0.44zM157.73 30.5h0.44l-140.00 245h-0.44zM160.03 30.5h0.44l-140.00 245h-0.44zM161.73 30.5h0.44l-140.00 245h-0.44zM164.03 30.5h0.44l-140.00 245h-0.44zM165.73 30.5h0.44l-140.00 245h-0.44zM168.03 30.5h0.44l-140.00 245h-0.44zM169.73 30.5h0.44l-140.00 245h-0.44zM172.03 30.5h0.44l-140.00 245h-0.44zM173.73 30.5h0.44l-140.00 245h-0.44zM176.03 30.5h0.44l-140.00 245h-0.44zM177.73 30.5h0.44l-140.00 245h-0.44zM180.03 30.5h0.44l-140.00 245h-0.44zM181.73 30.5h0.44l-140.00 245h-0.44zM184.03 30.5h0.44l-140.00 245h-0.44zM185.73 30.5h0.44l-140.00 245h-0.44zM188.03 30.5h0.44l-140.00 245h-0.44zM189.73 30.5h0.44l-140.00 245h-0.44zM192.03 30.5h0.44l-140.00 245h-0.44zM193.73 30.5h0.44l-140.00 245h-0.44zM196.03 30.5h0.44l-140.00 245h-0.44zM197.73 30.5h0.44l-140.00 245h-0.44zM200.03 30.5h0.44l-140.00 245h-0.44zM201.73 30.5h0.44l-140.00 245h-0.44zM204.03 30.5h0.44l-140.00 245h-0.44zM205.73 30.5h0.44l-140.00 245h-0.44zM208.03 30.5h0.44l-140.00 245h-0.44zM209.73 30.5h0.44l-140.00 245h-0.44zM212.03 30.5h0.44l-140.00 245h-0.44zM213.73 30.5h0.44l-140.00 245h-0.44zM216.03 30.5h0.44l-140.00 245h-0.44zM217.73 30.5h0.44l-140.00 245h-0.44zM220.03 30.5h0.44l-140.00 245h-0.44zM221.73 30.5h0.44l-140.00 245h-0.44zM224.03 30.5h0.44l-140.00 245h-0.44zM225.73 30.5h0.44l-140.00 245h-0.44zM228.03 30.5h0.44l-140.00 245h-0.44zM229.73 30.5h0.44l-140.00 245h-0.44zM232.03 30.5h0.44l-140.00 245h-0.44zM233.73 30.5h0.44l-140.00 245h-0.44zM236.03 30.5h0.44l-140.00 245h-0.44zM237.73 30.5h0.44l-140.00 245h-0.44zM240.03 30.5h0.44l-140.00 245h-0.44zM241.73 30.5h0.44l-140.00 245h-0.44zM244.03 30.5h0.44l-140.00 245h-0.44zM245.73 30.5h0.44l-140.00 245h-0.44zM248.03 30.5h0.44l-140.00 245h-0.44zM249.73 30.5h0.44l-140.00 245h-0.44zM252.03 30.5h0.44l-140.00 245h-0.44zM253.73 30.5h0.44l-140.00 245h-0.44zM256.03 30.5h0.44l-140.00 245h-0.44zM257.73 30.5h0.44l-140.00 245h-0.44zM260.03 30.5h0.44l-140.00 245h-0.44zM261.73 30.5h0.44l-140.00 245h-0.44zM264.03 30.5h0.44l-140.00 245h-0.44zM265.73 30.5h0.44l-140.00 245h-0.44zM268.03 30.5h0.44l-140.00 245h-0.44zM269.73 30.5h0.44l-140.00 245h-0.44zM272.03 30.5h0.44l-140.00 245h-0.44zM273.73 30.5h0.44l-140.00 245h-0.44zM276.03 30.5h0.44l-140.00 245h-0.44zM277.73 30.5h0.44l-140.00 245h-0.44zM280.03 30.5h0.44l-140.00 245h-0.44zM281.73 30.5h0.44l-140.00 245h-0.44zM284.03 30.5h0.44l-140.00 245h-0.44zM285.73 30.5h0.44l-140.00 245h-0.44zM288.03 30.5h0.44l-140.00 245h-0.44zM289.73 30.5h0.44l-140.00 245h-0.44zM292.03 30.5h0.44l-140.00 245h-0.44zM293.73 30.5h0.44l-140.00 245h-0.44zM296.03 30.5h0.44l-140.00 245h-0.44zM297.73 30.5h0.44l-140.00 245h-0.44zM300.03 30.5h0.44l-140.00 245h-0.44zM301.73 30.5h0.44l-140.00 245h-0.44zM304.03 30.5h0.44l-140.00 245h-0.44zM305.73 30.5h0.44l-140.00 245h-0.44zM308.03 30.5h0.44l-140.00 245h-0.44zM309.73 30.5h0.44l-140.00 245h-0.44zM312.03 30.5h0.44l-140.00 245h-0.44zM313.73 30.5h0.44l-140.00 245h-0.44zM316.03 30.5h0.44l-140.00 245h-0.44zM317.73 30.5h0.44l-140.00 245h-0.44zM320.03 30.5h0.44l-140.00 245h-0.44zM321.73 30.5h0.44l-140.00 245h-0.44zM324.03 30.5h0.44l-140.00 245h-0.44zM325.73 30.5h0.44l-140.00 245h-0.44zM328.03 30.5h0.44l-140.00 245h-0.44zM329.73 30.5h0.44l-140.00 245h-0.44zM332.03 30.5h0.44l-140.00 245h-0.44zM333.73 30.5h0.44l-140.00 245h-0.44zM336.03 30.5h0.44l-140.00 245h-0.44zM337.73 30.5h0.44l-140.00 245h-0.44zM340.03 30.5h0.44l-140.00 245h-0.44zM341.73 30.5h0.44l-140.00 245h-0.44zM344.03 30.5h0.44l-140.00 245h-0.44zM345.73 30.5h0.44l-140.00 245h-0.44zM348.03 30.5h0.44l-140.00 245h-0.44zM349.73 30.5h0.44l-140.00 245h-0.44zM352.03 30.5h0.44l-140.00 245h-0.44zM353.73 30.5h0.44l-140.00 245h-0.44zM356.03 30.5h0.44l-140.00 245h-0.44zM357.73 30.5h0.44l-140.00 245h-0.44zM360.03 30.5h0.44l-140.00 245h-0.44zM361.73 30.5h0.44l-140.00 245h-0.44zM364.03 30.5h0.44l-140.00 245h-0.44zM365.73 30.5h0.44l-140.00 245h-0.44zM368.03 30.5h0.44l-140.00 245h-0.44zM369.73 30.5h0.44l-140.00 245h-0.44zM372.03 30.5h0.44l-140.00 245h-0.44zM373.73 30.5h0.44l-140.00 245h-0.44zM376.03 30.5h0.44l-140.00 245h-0.44zM377.73 30.5h0.44l-140.00 245h-0.44zM380.03 30.5h0.44l-140.00 245h-0.44zM381.73 30.5h0.44l-140.00 245h-0.44zM384.03 30.5h0.44l-140.00 245h-0.44zM385.73 30.5h0.44l-140.00 245h-0.44zM388.03 30.5h0.44l-140.00 245h-0.44zM389.73 30.5h0.44l-140.00 245h-0.44zM392.03 30.5h0.44l-140.00 245h-0.44zM393.73 30.5h0.44l-140.00 245h-0.44zM396.03 30.5h0.44l-140.00 245h-0.44zM397.73 30.5h0.44l-140.00 245h-0.44zM400.03 30.5h0.44l-140.00 245h-0.44zM401.73 30.5h0.44l-140.00 245h-0.44zM404.03 30.5h0.44l-140.00 245h-0.44zM405.73 30.5h0.44l-140.00 245h-0.44zM408.03 30.5h0.44l-140.00 245h-0.44zM409.73 30.5h0.44l-140.00 245h-0.44zM412.03 30.5h0.44l-140.00 245h-0.44zM413.73 30.5h0.44l-140.00 245h-0.44zM416.03 30.5h0.44l-140.00 245h-0.44zM417.73 30.5h0.44l-140.00 245h-0.44zM420.03 30.5h0.44l-140.00 245h-0.44zM421.73 30.5h0.44l-140.00 245h-0.44zM424.03 30.5h0.44l-140.00 245h-0.44zM425.73 30.5h0.44l-140.00 245h-0.44zM428.03 30.5h0.44l-140.00 245h-0.44zM429.73 30.5h0.44l-140.00 245h-0.44zM432.03 30.5h0.44l-140.00 245h-0.44zM433.73 30.5h0.44l-140.00 245h-0.44zM436.03 30.5h0.44l-140.00 245h-0.44zM437.73 30.5h0.44l-140.00 245h-0.44zM440.03 30.5h0.44l-140.00 245h-0.44zM441.73 30.5h0.44l-140.00 245h-0.44zM444.03 30.5h0.44l-140.00 245h-0.44zM445.73 30.5h0.44l-140.00 245h-0.44zM448.03 30.5h0.44l-140.00 245h-0.44zM449.73 30.5h0.44l-140.00 245h-0.44zM452.03 30.5h0.44l-140.00 245h-0.44zM453.73 30.5h0.44l-140.00 245h-0.44zM456.03 30.5h0.44l-140.00 245h-0.44zM457.73 30.5h0.44l-140.00 245h-0.44zM460.03 30.5h0.44l-140.00 245h-0.44zM461.73 30.5h0.44l-140.00 245h-0.44zM464.03 30.5h0.44l-140.00 245h-0.44zM465.73 30.5h0.44l-140.00 245h-0.44zM468.03 30.5h0.44l-140.00 245h-0.44zM469.73 30.5h0.44l-140.00 245h-0.44zM472.03 30.5h0.44l-140.00 245h-0.44zM473.73 30.5h0.44l-140.00 245h-0.44zM476.03 30.5h0.44l-140.00 245h-0.44zM477.73 30.5h0.44l-140.00 245h-0.44zM480.03 30.5h0.44l-140.00 245h-0.44zM481.73 30.5h0.44l-140.00 245h-0.44zM484.03 30.5h0.44l-140.00 245h-0.44zM485.73 30.5h0.44l-140.00 245h-0.44zM488.03 30.5h0.44l-140.00 245h-0.44zM489.73 30.5h0.44l-140.00 245h-0.44zM492.03 30.5h0.44l-140.00 245h-0.44zM493.73 30.5h0.44l-140.00 245h-0.44zM496.03 30.5h0.44l-140.00 245h-0.44zM497.73 30.5h0.44l-140.00 245h-0.44zM500.03 30.5h0.44l-140.00 245h-0.44zM501.73 30.5h0.44l-140.00 245h-0.44zM504.03 30.5h0.44l-140.00 245h-0.44zM505.73 30.5h0.44l-140.00 245h-0.44zM508.03 30.5h0.44l-140.00 245h-0.44zM509.73 30.5h0.44l-140.00 245h-0.44zM512.03 30.5h0.44l-140.00 245h-0.44zM513.73 30.5h0.44l-140.00 245h-0.44zM516.03 30.5h0.44l-140.00 245h-0.44zM517.73 30.5h0.44l-140.00 245h-0.44z" fill="#fdb874"/></g>
<path d="M21.30 135.60 L66.60 135.60 L77.50 135.00 L95.00 134.20 L111.80 133.50 L126.00 132.90 L140.00 131.00 L150.00 129.50 L160.00 127.20 L168.30 125.60 L176.50 123.10 L184.80 120.60 L193.00 117.80 L198.00 115.70 L202.90 113.20 L209.50 111.20 L217.80 109.60 L220.00 108.00 L228.30 104.80 L236.50 101.50 L244.80 98.50 L253.00 96.50 L261.30 95.20 L269.50 93.50 L277.80 91.90 L285.00 91.20 L291.25 89.50 L296.00 87.90 L301.00 85.90 L305.90 84.10 L310.90 82.50 L315.80 81.00 L320.80 79.60 L325.40 78.30 L329.40 77.00 L333.90 76.00 L338.40 75.40 L342.90 75.20 L347.40 75.60 L351.00 75.97 L357.80 75.97" stroke="#3c3c3c" stroke-width="0.8" stroke-dasharray="1.2 2.1" fill="none"/>
<path d="M160.70 272.40 L164.70 214.00 L178.00 214.00 L183.55 196.40 L188.25 186.90 L192.00 185.00 L195.75 182.75 L197.60 180.00 L202.00 178.10 L205.10 175.00 L206.40 172.50 L209.50 169.40 L214.50 166.90 L217.00 165.00 L220.10 162.50 L222.50 158.25 L226.25 153.90 L230.00 148.90 L233.75 145.10 L238.75 142.00 L245.00 137.60 L251.25 133.25 L257.50 128.90 L263.75 125.10 L269.70 121.00 L277.10 117.00 L285.00 111.60 L290.00 108.90 L297.50 104.90 L303.00 101.80 L309.00 98.30 L316.00 94.70 L321.00 92.30 L325.70 90.00 L330.50 87.80 L335.60 85.20 L338.50 83.50 L343.00 80.50 L347.40 78.50 L350.50 77.00 L354.00 75.97 L357.80 75.97" stroke="#3c3c3c" stroke-width="0.8" stroke-dasharray="1.2 2.1" fill="none"/>
<path d="M21.30 168.60 L60.00 168.60 L73.00 168.20 L80.00 168.00 L94.20 167.00 L108.40 164.80 L120.00 163.00 L132.50 159.90 L145.00 156.80 L157.50 153.60 L163.75 152.30 L172.90 149.80 L176.00 148.90 L183.30 146.00 L190.50 143.80 L197.80 140.20 L204.00 135.10 L212.60 131.80 L221.10 128.90 L227.10 126.40 L231.40 122.10 L238.30 118.60 L244.80 114.90 L253.00 111.40 L261.30 108.60 L269.50 105.60 L277.80 103.10 L285.00 100.60 L291.25 98.50 L296.00 96.20 L305.90 92.10 L315.80 87.70 L325.40 83.40 L333.90 79.50 L338.40 77.90 L342.90 76.50 L347.40 75.60 L351.00 75.17 L357.80 75.17" stroke="#3c3c3c" stroke-width="0.8" stroke-dasharray="1.2 2.1" fill="none"/>
<path d="M21.30 186.20 L94.00 184.81 L101.30 181.70 L108.40 180.00 L115.50 178.40 L122.60 178.36 L132.50 175.00 L145.00 169.40 L157.50 165.60 L172.90 160.30 L181.00 158.21 L192.00 151.86 L200.00 147.79 L220.00 136.58 L236.00 125.07 L265.00 110.25 L300.00 96.64 L340.00 78.50 L357.80 75.97" stroke="#3c3c3c" stroke-width="0.8" stroke-dasharray="1.2 2.1" fill="none"/>
<path d="M21.30 169.40 L60.00 169.40 L73.00 169.00 L80.00 168.80 L94.20 167.80 L108.40 165.60 L120.00 163.80 L132.50 160.70 L145.00 157.60 L157.50 154.40 L163.75 153.10 L172.90 150.60 L176.00 149.70 L183.30 146.80 L190.50 144.60 L197.80 141.00 L204.00 135.90 L212.60 132.60 L221.10 129.70 L227.10 127.20 L231.40 122.90 L238.30 119.40 L244.80 115.70 L253.00 112.20 L261.30 109.40 L269.50 106.40 L277.80 103.90 L285.00 101.40 L291.25 99.30 L296.00 97.00 L305.90 92.90 L315.80 88.50 L325.40 84.20 L333.90 80.30 L338.40 78.70 L342.90 77.30 L347.40 76.40 L351.00 75.97 L357.80 75.97" stroke="#151515" stroke-width="1" fill="none"/>
<path d="M21.30 214.00 L30.70 214.00M35.60 214.00 L44.70 214.00M50.00 214.00 L59.20 214.00M64.40 214.00 L66.60 214.00 L72.50 210.07M76.25 207.57 L84.40 202.13M88.10 199.67 L93.00 196.40 L95.60 193.97M99.30 190.50 L107.00 183.29M109.90 180.58 L111.80 178.80 L117.60 176.58M122.50 174.70 L126.40 173.20 L130.50 171.62M135.60 169.64 L138.30 168.60 L145.00 168.60M148.75 168.31 L156.90 161.47M161.90 159.24 L164.80 158.00 L169.40 154.51M173.75 151.70 L182.50 151.00M187.50 150.60 L195.60 147.50M199.60 143.80 L208.20 140.60M213.40 139.80 L217.90 137.80 L221.10 137.00M224.80 134.60 L228.90 131.00 L232.70 129.80M236.80 128.66 L237.00 128.60 L240.00 127.70 L246.20 127.70M251.20 126.01 L251.50 125.90 L257.80 121.49M263.00 117.50 L269.60 113.36M273.50 110.00 L280.80 108.10 L281.40 107.72M286.10 104.70 L293.75 102.20M298.75 99.09 L305.60 95.94M310.60 92.82 L318.75 89.42M323.10 87.35 L323.20 87.30 L330.60 83.65M333.30 81.75 L333.50 81.60 L338.00 79.00 L342.50 77.35M346.30 76.45 L347.00 76.30 L351.00 75.97 L357.80 75.97" stroke="#c01212" stroke-width="2.1" fill="none"/>
</g>
<g clip-path="url(#c1)"><path d="M21.30 272.40v-12 M21.30 30.50v12 M66.56 272.40v-6 M66.56 30.50v6 M93.04 272.40v-6 M93.04 30.50v6 M111.82 272.40v-6 M111.82 30.50v6 M126.39 272.40v-6 M126.39 30.50v6 M138.30 272.40v-6 M138.30 30.50v6 M148.36 272.40v-6 M148.36 30.50v6 M157.08 272.40v-6 M157.08 30.50v6 M164.77 272.40v-6 M164.77 30.50v6 M171.65 272.40v-12 M171.65 30.50v12 M216.91 272.40v-6 M216.91 30.50v6 M243.39 272.40v-6 M243.39 30.50v6 M262.17 272.40v-6 M262.17 30.50v6 M276.74 272.40v-6 M276.74 30.50v6 M288.65 272.40v-6 M288.65 30.50v6 M298.71 272.40v-6 M298.71 30.50v6 M307.43 272.40v-6 M307.43 30.50v6 M315.12 272.40v-6 M315.12 30.50v6 M322.00 272.40v-12 M322.00 30.50v12 M21.50 272.40h10 M360.50 272.40h-10 M21.50 254.82h5 M360.50 254.82h-5 M21.50 244.54h5 M360.50 244.54h-5 M21.50 237.24h5 M360.50 237.24h-5 M21.50 231.58h5 M360.50 231.58h-5 M21.50 226.96h5 M360.50 226.96h-5 M21.50 223.05h5 M360.50 223.05h-5 M21.50 219.66h5 M360.50 219.66h-5 M21.50 216.67h5 M360.50 216.67h-5 M21.50 214.00h10 M360.50 214.00h-10 M21.50 196.42h5 M360.50 196.42h-5 M21.50 186.14h5 M360.50 186.14h-5 M21.50 178.84h5 M360.50 178.84h-5 M21.50 173.18h5 M360.50 173.18h-5 M21.50 168.56h5 M360.50 168.56h-5 M21.50 164.65h5 M360.50 164.65h-5 M21.50 161.26h5 M360.50 161.26h-5 M21.50 158.27h5 M360.50 158.27h-5 M21.50 155.60h10 M360.50 155.60h-10 M21.50 138.02h5 M360.50 138.02h-5 M21.50 127.74h5 M360.50 127.74h-5 M21.50 120.44h5 M360.50 120.44h-5 M21.50 114.78h5 M360.50 114.78h-5 M21.50 110.16h5 M360.50 110.16h-5 M21.50 106.25h5 M360.50 106.25h-5 M21.50 102.86h5 M360.50 102.86h-5 M21.50 99.87h5 M360.50 99.87h-5 M21.50 97.20h10 M360.50 97.20h-10 M21.50 79.62h5 M360.50 79.62h-5 M21.50 69.34h5 M360.50 69.34h-5 M21.50 62.04h5 M360.50 62.04h-5 M21.50 56.38h5 M360.50 56.38h-5 M21.50 51.76h5 M360.50 51.76h-5 M21.50 47.85h5 M360.50 47.85h-5 M21.50 44.46h5 M360.50 44.46h-5 M21.50 41.47h5 M360.50 41.47h-5 M21.50 38.80h10 M360.50 38.80h-10" stroke="#151515" stroke-width="1" stroke-dasharray="1.1 0.9" opacity="0.55" fill="none"/></g>
<rect x="21.50" y="30.50" width="339.00" height="241.90" fill="none" stroke="#151515" stroke-width="1"/>
<path d="M66.56 272.40v-2.6 M93.04 272.40v-2.6 M111.82 272.40v-2.6 M126.39 272.40v-2.6 M138.30 272.40v-2.6 M148.36 272.40v-2.6 M157.08 272.40v-2.6" stroke="#151515" stroke-width="1" opacity="0.8" fill="none"/>
<path d="M21.50 137V271.40" stroke="#fdb372" stroke-width="1.3" stroke-dasharray="1.4 2.6" fill="none"/>
<path d="M21.50 170V185" stroke="#fdb372" stroke-width="1.3" stroke-dasharray="1.4 2.6" fill="none"/>
<path d="M22.50 272.40H160" stroke="#fdb372" stroke-width="1.3" stroke-dasharray="0.6 1.4" fill="none"/>
<path d="M1.21 263.81L0.04 264.20L-0.74 265.37L-1.13 267.32L-1.13 268.49L-0.74 270.44L0.04 271.61L1.21 272.00L1.99 272.00L3.16 271.61L3.94 270.44L4.33 268.49L4.33 267.32L3.94 265.37L3.16 264.20L1.99 263.81L1.21 263.81M7.45 271.22L7.06 271.61L7.45 272.00L7.84 271.61L7.45 271.22M11.74 265.37L12.52 264.98L13.69 263.81L13.69 272.00M0.04 211.92L0.82 211.53L1.99 210.36L1.99 218.55M7.45 217.77L7.06 218.16L7.45 218.55L7.84 218.16L7.45 217.77M12.91 210.36L11.74 210.75L10.96 211.92L10.57 213.87L10.57 215.04L10.96 216.99L11.74 218.16L12.91 218.55L13.69 218.55L14.86 218.16L15.64 216.99L16.03 215.04L16.03 213.87L15.64 211.92L14.86 210.75L13.69 210.36L12.91 210.36M-7.76 153.52L-6.98 153.13L-5.81 151.96L-5.81 160.15M1.21 151.96L0.04 152.35L-0.74 153.52L-1.13 155.47L-1.13 156.64L-0.74 158.59L0.04 159.76L1.21 160.15L1.99 160.15L3.16 159.76L3.94 158.59L4.33 156.64L4.33 155.47L3.94 153.52L3.16 152.35L1.99 151.96L1.21 151.96M7.45 159.37L7.06 159.76L7.45 160.15L7.84 159.76L7.45 159.37M12.91 151.96L11.74 152.35L10.96 153.52L10.57 155.47L10.57 156.64L10.96 158.59L11.74 159.76L12.91 160.15L13.69 160.15L14.86 159.76L15.64 158.59L16.03 156.64L16.03 155.47L15.64 153.52L14.86 152.35L13.69 151.96L12.91 151.96M-15.56 95.12L-14.78 94.73L-13.61 93.56L-13.61 101.75M-6.59 93.56L-7.76 93.95L-8.54 95.12L-8.93 97.07L-8.93 98.24L-8.54 100.19L-7.76 101.36L-6.59 101.75L-5.81 101.75L-4.64 101.36L-3.86 100.19L-3.47 98.24L-3.47 97.07L-3.86 95.12L-4.64 93.95L-5.81 93.56L-6.59 93.56M1.21 93.56L0.04 93.95L-0.74 95.12L-1.13 97.07L-1.13 98.24L-0.74 100.19L0.04 101.36L1.21 101.75L1.99 101.75L3.16 101.36L3.94 100.19L4.33 98.24L4.33 97.07L3.94 95.12L3.16 93.95L1.99 93.56L1.21 93.56M7.45 100.97L7.06 101.36L7.45 101.75L7.84 101.36L7.45 100.97M12.91 93.56L11.74 93.95L10.96 95.12L10.57 97.07L10.57 98.24L10.96 100.19L11.74 101.36L12.91 101.75L13.69 101.75L14.86 101.36L15.64 100.19L16.03 98.24L16.03 97.07L15.64 95.12L14.86 93.95L13.69 93.56L12.91 93.56M-23.36 36.72L-22.58 36.33L-21.41 35.16L-21.41 43.35M-14.39 35.16L-15.56 35.55L-16.34 36.72L-16.73 38.67L-16.73 39.84L-16.34 41.79L-15.56 42.96L-14.39 43.35L-13.61 43.35L-12.44 42.96L-11.66 41.79L-11.27 39.84L-11.27 38.67L-11.66 36.72L-12.44 35.55L-13.61 35.16L-14.39 35.16M-6.59 35.16L-7.76 35.55L-8.54 36.72L-8.93 38.67L-8.93 39.84L-8.54 41.79L-7.76 42.96L-6.59 43.35L-5.81 43.35L-4.64 42.96L-3.86 41.79L-3.47 39.84L-3.47 38.67L-3.86 36.72L-4.64 35.55L-5.81 35.16L-6.59 35.16M1.21 35.16L0.04 35.55L-0.74 36.72L-1.13 38.67L-1.13 39.84L-0.74 41.79L0.04 42.96L1.21 43.35L1.99 43.35L3.16 42.96L3.94 41.79L4.33 39.84L4.33 38.67L3.94 36.72L3.16 35.55L1.99 35.16L1.21 35.16M7.45 42.57L7.06 42.96L7.45 43.35L7.84 42.96L7.45 42.57M12.91 35.16L11.74 35.55L10.96 36.72L10.57 38.67L10.57 39.84L10.96 41.79L11.74 42.96L12.91 43.35L13.69 43.35L14.86 42.96L15.64 41.79L16.03 39.84L16.03 38.67L15.64 36.72L14.86 35.55L13.69 35.16L12.91 35.16M18.94 283.12L19.72 282.73L20.89 281.56L20.89 289.75M165.39 283.12L166.17 282.73L167.34 281.56L167.34 289.75M174.36 281.56L173.19 281.95L172.41 283.12L172.02 285.07L172.02 286.24L172.41 288.19L173.19 289.36L174.36 289.75L175.14 289.75L176.31 289.36L177.09 288.19L177.48 286.24L177.48 285.07L177.09 283.12L176.31 281.95L175.14 281.56L174.36 281.56M311.84 283.12L312.62 282.73L313.79 281.56L313.79 289.75M320.81 281.56L319.64 281.95L318.86 283.12L318.47 285.07L318.47 286.24L318.86 288.19L319.64 289.36L320.81 289.75L321.59 289.75L322.76 289.36L323.54 288.19L323.93 286.24L323.93 285.07L323.54 283.12L322.76 281.95L321.59 281.56L320.81 281.56M328.61 281.56L327.44 281.95L326.66 283.12L326.27 285.07L326.27 286.24L326.66 288.19L327.44 289.36L328.61 289.75L329.39 289.75L330.56 289.36L331.34 288.19L331.73 286.24L331.73 285.07L331.34 283.12L330.56 281.95L329.39 281.56L328.61 281.56" stroke="#1c1c1c" stroke-width="0.95" fill="none" stroke-linecap="round" stroke-linejoin="round"/>
<path d="M27.46 13.44L27.46 23.75M27.46 23.75L33.36 23.75M42.19 14.91L41.21 13.93L39.74 13.44L37.77 13.44L36.30 13.93L35.32 14.91L35.32 15.89L35.81 16.88L36.30 17.37L37.28 17.86L40.23 18.84L41.21 19.33L41.70 19.82L42.19 20.80L42.19 22.28L41.21 23.26L39.74 23.75L37.77 23.75L36.30 23.26L35.32 22.28M52.01 14.91L51.03 13.93L49.56 13.44L47.59 13.44L46.12 13.93L45.14 14.91L45.14 15.89L45.63 16.88L46.12 17.37L47.10 17.86L50.05 18.84L51.03 19.33L51.52 19.82L52.01 20.80L52.01 22.28L51.03 23.26L49.56 23.75L47.59 23.75L46.12 23.26L45.14 22.28M68.71 18.35L67.73 17.37L66.74 16.88L65.27 16.88L64.29 17.37L63.31 18.35L62.82 19.82L62.82 20.80L63.31 22.28L64.29 23.26L65.27 23.75L66.74 23.75L67.73 23.26L68.71 22.28M77.55 16.88L77.55 23.75M77.55 18.35L76.56 17.37L75.58 16.88L74.11 16.88L73.13 17.37L72.14 18.35L71.65 19.82L71.65 20.80L72.14 22.28L73.13 23.26L74.11 23.75L75.58 23.75L76.56 23.26L77.55 22.28M86.38 18.35L85.89 17.37L84.42 16.88L82.95 16.88L81.47 17.37L80.98 18.35L81.47 19.33L82.46 19.82L84.91 20.31L85.89 20.80L86.38 21.79L86.38 22.28L85.89 23.26L84.42 23.75L82.95 23.75L81.47 23.26L80.98 22.28M89.33 19.82L95.22 19.82L95.22 18.84L94.73 17.86L94.24 17.37L93.26 16.88L91.78 16.88L90.80 17.37L89.82 18.35L89.33 19.82L89.33 20.80L89.82 22.28L90.80 23.26L91.78 23.75L93.26 23.75L94.24 23.26L95.22 22.28M106.51 13.44L106.51 23.75M106.51 13.44L112.90 13.44M106.51 18.35L110.44 18.35M106.51 23.75L112.90 23.75M118.45 23.45L117.84 22.84L117.23 22.54L116.32 22.54L115.71 22.84L115.10 23.45L114.79 24.36L114.79 24.97L115.10 25.89L115.71 26.50L116.32 26.80L117.23 26.80L117.84 26.50L118.45 25.89M120.58 22.54L120.58 25.58L120.88 26.50L121.49 26.80L122.40 26.80L123.01 26.50L123.93 25.58M123.93 22.54L123.93 26.80M126.67 20.41L126.67 25.58L126.97 26.50L127.58 26.80L128.19 26.80M125.75 22.54L127.88 22.54M130.76 17.86L139.60 17.86M130.76 20.80L139.60 20.80M145.49 13.44L144.02 13.93L143.53 14.91L143.53 15.89L144.02 16.88L145.00 17.37L146.96 17.86L148.44 18.35L149.42 19.33L149.91 20.31L149.91 21.79L149.42 22.77L148.93 23.26L147.45 23.75L145.49 23.75L144.02 23.26L143.53 22.77L143.04 21.79L143.04 20.31L143.53 19.33L144.51 18.35L145.98 17.86L147.95 17.37L148.93 16.88L149.42 15.89L149.42 14.91L148.93 13.93L147.45 13.44L145.49 13.44M155.80 13.44L154.33 13.93L153.35 15.40L152.86 17.86L152.86 19.33L153.35 21.79L154.33 23.26L155.80 23.75L156.78 23.75L158.26 23.26L159.24 21.79L159.73 19.33L159.73 17.86L159.24 15.40L158.26 13.93L156.78 13.44L155.80 13.44M171.02 13.44L171.02 23.75M171.02 13.44L177.41 13.44M171.02 18.35L174.95 18.35M171.02 23.75L177.41 23.75M179.86 19.82L185.75 19.82L185.75 18.84L185.26 17.86L184.77 17.37L183.79 16.88L182.32 16.88L181.33 17.37L180.35 18.35L179.86 19.82L179.86 20.80L180.35 22.28L181.33 23.26L182.32 23.75L183.79 23.75L184.77 23.26L185.75 22.28M187.72 13.44L191.64 23.75M195.57 13.44L191.64 23.75M199.01 23.26L198.52 23.75L198.03 23.26L198.52 22.77L199.01 23.26L199.01 24.24L198.52 25.22L198.03 25.71M210.79 16.88L210.79 23.75M210.79 18.84L212.27 17.37L213.25 16.88L214.72 16.88L215.70 17.37L216.19 18.84L216.19 23.75M222.70 23.49L222.37 22.84L221.40 22.51L220.43 22.51L219.45 22.84L219.13 23.49L219.45 24.13L220.10 24.46L221.72 24.78L222.37 25.11L222.70 25.75L222.70 26.08L222.37 26.73L221.40 27.05L220.43 27.05L219.45 26.73L219.13 26.08M225.63 17.86L234.47 17.86M225.63 20.80L234.47 20.80M239.38 15.40L240.36 14.91L241.83 13.44L241.83 23.75M248.71 22.77L248.22 23.26L248.71 23.75L249.20 23.26L248.71 22.77M257.55 13.44L252.64 20.31L260.00 20.31M257.55 13.44L257.55 23.75M262.46 16.88L267.86 23.75M267.86 16.88L262.46 23.75M272.28 15.40L273.26 14.91L274.73 13.44L274.73 23.75M283.57 13.44L282.10 13.93L281.11 15.40L280.62 17.86L280.62 19.33L281.11 21.79L282.10 23.26L283.57 23.75L284.55 23.75L286.02 23.26L287.01 21.79L287.50 19.33L287.50 17.86L287.01 15.40L286.02 13.93L284.55 13.44L283.57 13.44M290.05 13.52L294.91 13.52M299.50 10.28L296.80 14.06L300.85 14.06M299.50 10.28L299.50 15.95M312.19 13.44L312.19 23.75M312.19 13.44L316.12 23.75M320.05 13.44L316.12 23.75M320.05 13.44L320.05 23.75M323.98 16.88L323.98 27.19M323.98 18.35L324.96 17.37L325.94 16.88L327.42 16.88L328.40 17.37L329.38 18.35L329.87 19.82L329.87 20.80L329.38 22.28L328.40 23.26L327.42 23.75L325.94 23.75L324.96 23.26L323.98 22.28M338.71 18.35L337.73 17.37L336.74 16.88L335.27 16.88L334.29 17.37L333.31 18.35L332.82 19.82L332.82 20.80L333.31 22.28L334.29 23.26L335.27 23.75L336.74 23.75L337.73 23.26L338.71 22.28M341.26 13.52L346.12 13.52M349.63 10.28L352.60 10.28L350.98 12.44L351.79 12.44L352.33 12.71L352.60 12.98L352.87 13.79L352.87 14.33L352.60 15.14L352.06 15.68L351.25 15.95L350.44 15.95L349.63 15.68L349.36 15.41L349.09 14.87" stroke="#1c1c1c" stroke-width="1" fill="none" stroke-linecap="round" stroke-linejoin="round"/>
<text x="167.6" y="307.6" font-size="14" font-weight="bold" font-style="italic" fill="#222">θ</text>
<path d="M181.94 295.65L181.94 308.77M181.94 295.65L184.81 295.65M181.94 308.77L184.81 308.77M192.19 297.29L192.19 305.90M192.19 301.39L191.37 300.57L190.55 300.16L189.32 300.16L188.50 300.57L187.68 301.39L187.27 302.62L187.27 303.44L187.68 304.67L188.50 305.49L189.32 305.90L190.55 305.90L191.37 305.49L192.19 304.67M195.06 302.62L199.98 302.62L199.98 301.80L199.57 300.98L199.16 300.57L198.34 300.16L197.11 300.16L196.29 300.57L195.47 301.39L195.06 302.62L195.06 303.44L195.47 304.67L196.29 305.49L197.11 305.90L198.34 305.90L199.16 305.49L199.98 304.67M207.36 300.16L207.36 306.72L206.95 307.95L206.54 308.36L205.72 308.77L204.49 308.77L203.67 308.36M207.36 301.39L206.54 300.57L205.72 300.16L204.49 300.16L203.67 300.57L202.85 301.39L202.44 302.62L202.44 303.44L202.85 304.67L203.67 305.49L204.49 305.90L205.72 305.90L206.54 305.49L207.36 304.67M213.10 295.65L213.10 308.77M210.23 295.65L213.10 295.65M210.23 308.77L213.10 308.77" stroke="#1c1c1c" stroke-width="1" fill="none" stroke-linecap="round" stroke-linejoin="round"/>
<path d="M252.7 204.1H291" stroke="#c01212" stroke-width="2.1" stroke-dasharray="9.7 4.6" fill="none"/>
<path d="M252.5 214.3H291" stroke="#151515" stroke-width="1" fill="none"/>
<path d="M299.75 200.11L297.40 206.30M299.75 200.11L302.12 206.30M298.28 204.24L301.23 204.24M303.59 200.11L303.59 204.53L303.89 205.42L304.48 206.01L305.36 206.30L305.95 206.30L306.84 206.01L307.43 205.42L307.72 204.53L307.72 200.11M314.21 201.58L313.92 200.99L313.33 200.40L312.74 200.11L311.56 200.11L310.97 200.40L310.38 200.99L310.08 201.58L309.79 202.47L309.79 203.94L310.08 204.83L310.38 205.42L310.97 206.01L311.56 206.30L312.74 206.30L313.33 206.01L313.92 205.42L314.21 204.83L314.21 203.94M312.74 203.94L314.21 203.94M316.28 200.11L316.28 206.30M316.28 200.11L320.11 200.11M316.28 203.06L318.64 203.06M316.28 206.30L320.11 206.30M321.88 200.11L321.88 206.30M321.88 200.11L324.54 200.11L325.42 200.40L325.72 200.70L326.01 201.29L326.01 201.88L325.72 202.47L325.42 202.76L324.54 203.06L321.88 203.06M323.95 203.06L326.01 206.30M298.28 212.07L298.28 216.20M298.28 213.25L299.17 212.36L299.75 212.07L300.64 212.07L301.23 212.36L301.53 213.25L301.53 216.20M301.53 213.25L302.41 212.36L303.00 212.07L303.89 212.07L304.48 212.36L304.77 213.25L304.77 216.20M306.84 213.84L310.38 213.84L310.38 213.25L310.08 212.66L309.79 212.36L309.20 212.07L308.31 212.07L307.72 212.36L307.13 212.95L306.84 213.84L306.84 214.43L307.13 215.31L307.72 215.91L308.31 216.20L309.20 216.20L309.79 215.91L310.38 215.31M315.69 212.07L315.69 216.20M315.69 212.95L315.10 212.36L314.51 212.07L313.62 212.07L313.03 212.36L312.44 212.95L312.15 213.84L312.15 214.43L312.44 215.31L313.03 215.91L313.62 216.20L314.51 216.20L315.10 215.91L315.69 215.31M318.05 212.07L318.05 216.20M318.05 213.25L318.93 212.36L319.52 212.07L320.41 212.07L321.00 212.36L321.29 213.25L321.29 216.20" stroke="#1c1c1c" stroke-width="0.9" fill="none" stroke-linecap="round" stroke-linejoin="round"/>
</svg></body></html>
